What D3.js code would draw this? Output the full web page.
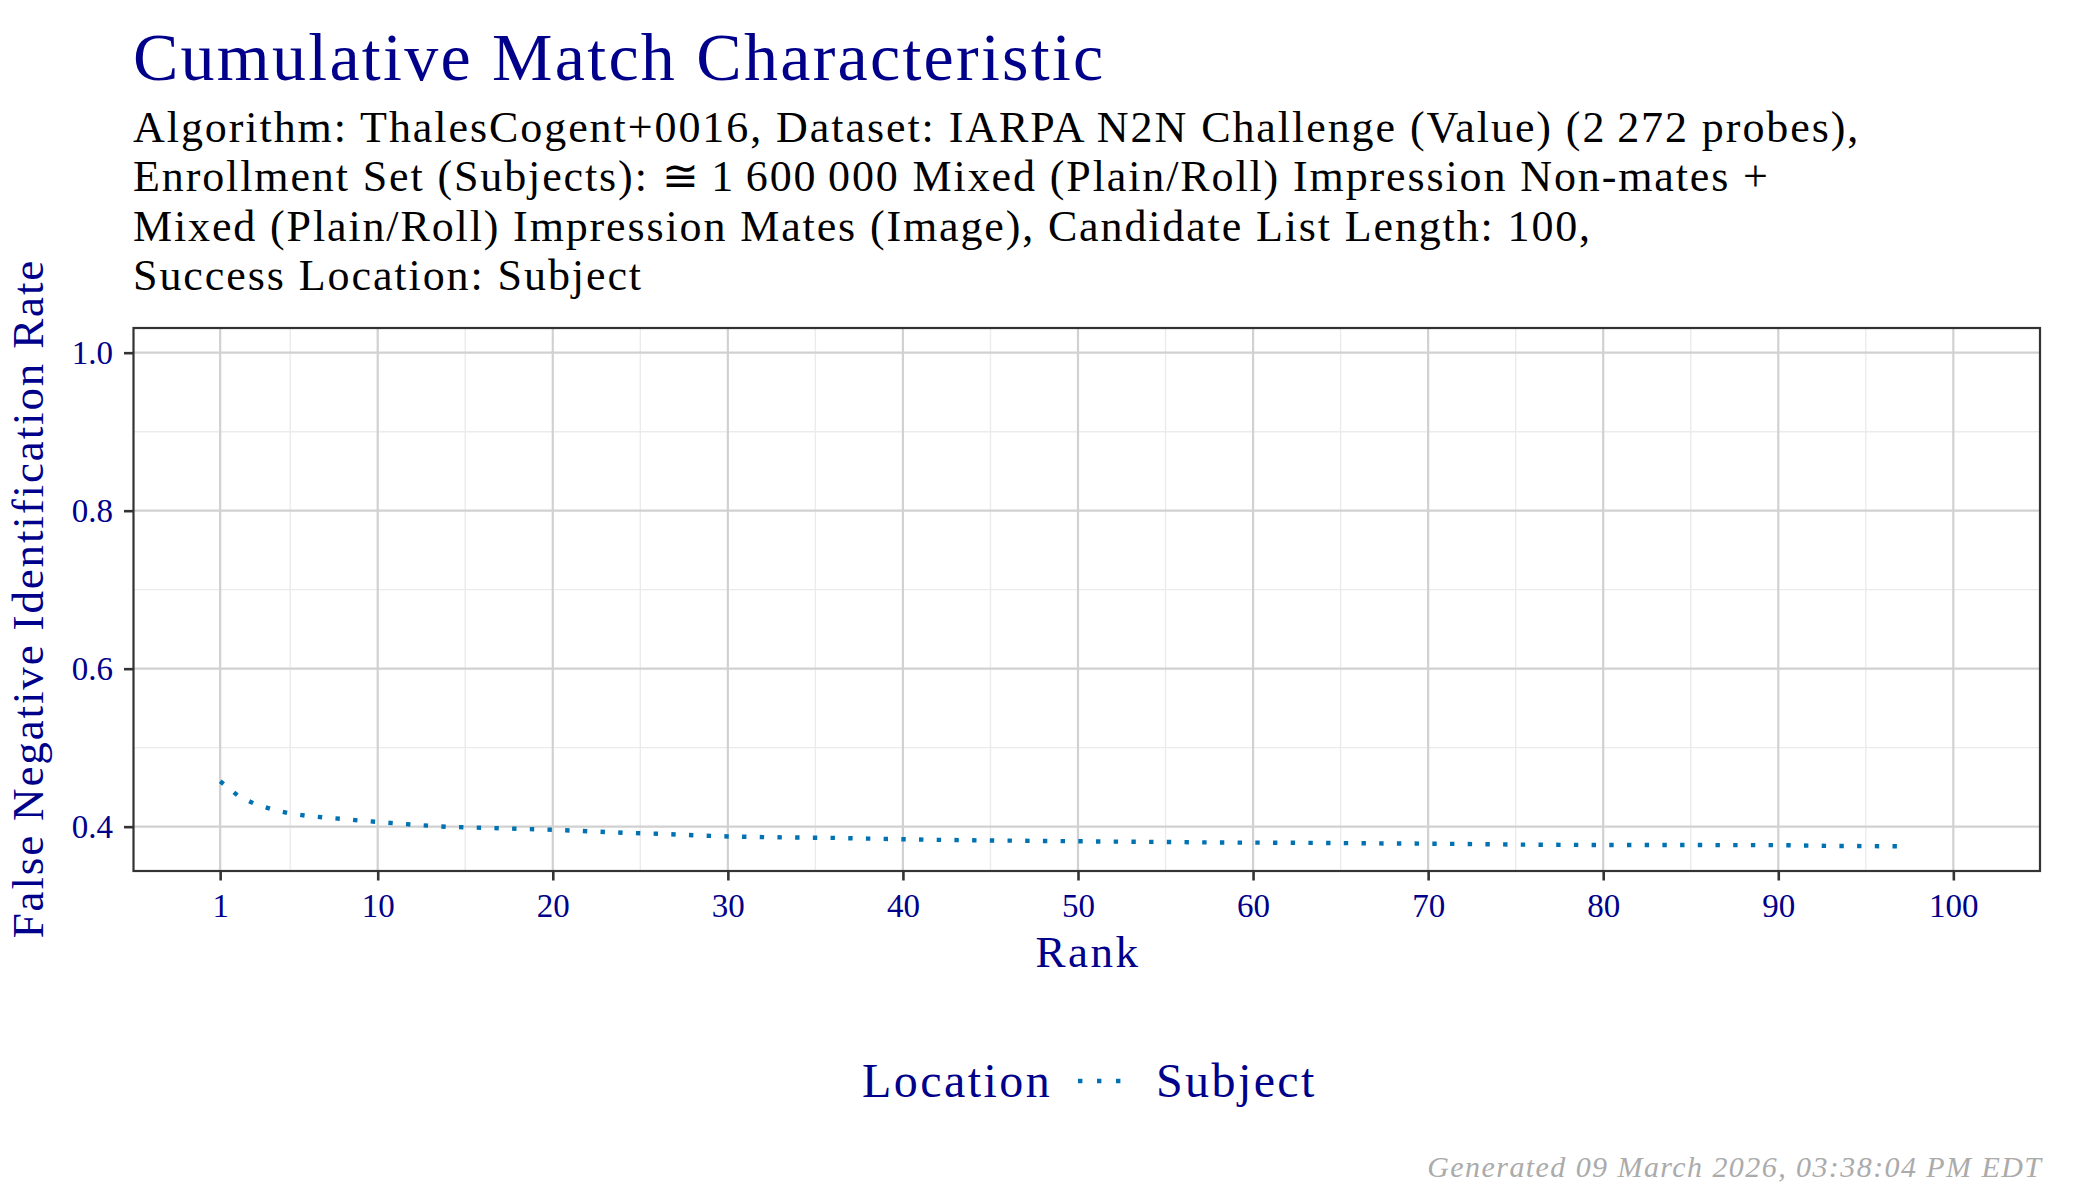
<!DOCTYPE html>
<html>
<head>
<meta charset="utf-8">
<script src="https://cdn.jsdelivr.net/npm/d3@7"></script>
<style>
  body { margin: 0; background: #fff; }
  text { font-family: "Liberation Serif", "DejaVu Serif", serif; }
</style>
</head>
<body>
<svg class="cmc-chart"></svg>
<script>
// values
var ranks = [1, 2, 3, 4, 5, 6, 7, 8, 9, 10, 12, 14, 16, 18, 20, 22, 24, 26, 28, 30,
  32, 34, 36, 38, 40, 42, 44, 46, 48, 50, 52, 55, 58, 61, 64, 67, 70, 73, 76, 80,
  85, 90, 93, 97];
var fnir = [0.4575, 0.4395, 0.4285, 0.4218, 0.4166, 0.4135, 0.4115, 0.4097, 0.4077, 0.4060,
  0.4025, 0.3997, 0.3986, 0.3973, 0.3960, 0.3942, 0.3923, 0.3910, 0.3892, 0.3876,
  0.3868, 0.3862, 0.3858, 0.3849, 0.3841, 0.3833, 0.3827, 0.3823, 0.3819, 0.3815,
  0.3811, 0.3806, 0.3799, 0.3797, 0.3794, 0.3788, 0.3785, 0.3778, 0.3771, 0.3768,
  0.3767, 0.3766, 0.3756, 0.3751];
var xBreaks = [1, 10, 20, 30, 40, 50, 60, 70, 80, 90, 100];
var xMinor = [5, 15, 25, 35, 45, 55, 65, 75, 85, 95];
var yBreaks = [0.4, 0.6, 0.8, 1.0];
var yMinor = [0.5, 0.7, 0.9];

var titleText = "Cumulative Match Characteristic";
var subtitleLines = [
  "Algorithm: ThalesCogent+0016, Dataset: IARPA N2N Challenge (Value) (2\u2009272 probes),",
  "Enrollment Set (Subjects): \u2245\u20091\u2009600\u2009000 Mixed (Plain/Roll) Impression Non-mates +",
  "Mixed (Plain/Roll) Impression Mates (Image), Candidate List Length: 100,",
  "Success Location: Subject"
];
var seriesName = "Subject";
var legendTitle = "Location";
var xTitle = "Rank";
var yTitle = "False Negative Identification Rate";
var generatedText = "Generated 09 March 2026, 03:38:04 PM EDT";

var data = ranks.map(function(r, i){ return {rank: r, fnir: fnir[i]}; });

var width = 2100, height = 1200;
var svg = d3.select(".cmc-chart").attr("width", width).attr("height", height);

var navy = "#00008b";
var lineColor = "#0072b2";
var panel = {left: 133.5, right: 2040, top: 328, bottom: 871};

// the reference font (Palatino) runs wider than Liberation Serif,
// so stretch the spacing a bit to keep the same line widths
function widen(sel, k){
  sel.each(function(){
    var w = this.getComputedTextLength();
    d3.select(this).attr("textLength", w * k).attr("lengthAdjust", "spacing");
  });
}

//Set scales (ggplot style 5% expansion)
var xLo = 1, xHi = 100;
var xPad = (xHi - xLo) * 0.05;
var xScale = d3.scaleLinear()
  .domain([xLo - xPad, xHi + xPad])
  .range([panel.left, panel.right]);

var yLo = d3.min(fnir), yHi = 1;
var yPad = (yHi - yLo) * 0.05;
var yScale = d3.scaleLinear()
  .domain([yLo - yPad, yHi + yPad])
  .range([panel.bottom, panel.top]);

//Groups for z-order
var gGrid = svg.append("g").attr("id", "grid");
var gLine = svg.append("g").attr("id", "line-g");
var gFrame = svg.append("g").attr("id", "frame");

//Grid lines
gGrid.selectAll(".vminor").data(xMinor).enter().append("line")
  .attr("x1", function(d){ return xScale(d); })
  .attr("x2", function(d){ return xScale(d); })
  .attr("y1", panel.top).attr("y2", panel.bottom)
  .attr("stroke", "#ebebeb").attr("stroke-width", 1.4);
gGrid.selectAll(".hminor").data(yMinor).enter().append("line")
  .attr("y1", function(d){ return yScale(d); })
  .attr("y2", function(d){ return yScale(d); })
  .attr("x1", panel.left).attr("x2", panel.right)
  .attr("stroke", "#ebebeb").attr("stroke-width", 1.4);
gGrid.selectAll(".vmajor").data(xBreaks).enter().append("line")
  .attr("x1", function(d){ return xScale(d); })
  .attr("x2", function(d){ return xScale(d); })
  .attr("y1", panel.top).attr("y2", panel.bottom)
  .attr("stroke", "#d1d1d1").attr("stroke-width", 2.2);
gGrid.selectAll(".hmajor").data(yBreaks).enter().append("line")
  .attr("y1", function(d){ return yScale(d); })
  .attr("y2", function(d){ return yScale(d); })
  .attr("x1", panel.left).attr("x2", panel.right)
  .attr("stroke", "#d1d1d1").attr("stroke-width", 2.2);

//The CMC line
var line = d3.line()
  .x(function(d){ return xScale(d.rank); })
  .y(function(d){ return yScale(d.fnir); });

gLine.append("path")
  .datum(data)
  .attr("d", line)
  .attr("fill", "none")
  .attr("stroke", lineColor)
  .attr("stroke-width", 4.4)
  .attr("stroke-dasharray", "4.4,13.3");

//Panel border
gFrame.append("rect")
  .attr("x", panel.left).attr("y", panel.top)
  .attr("width", panel.right - panel.left)
  .attr("height", panel.bottom - panel.top)
  .attr("fill", "none")
  .attr("stroke", "#333333")
  .attr("stroke-width", 2.2);

//Axes
var xAxis = d3.axisBottom(xScale)
  .tickValues(xBreaks)
  .tickSize(9.5)
  .tickPadding(13)
  .tickFormat(d3.format("d"));
var gX = svg.append("g")
  .attr("transform", "translate(0," + panel.bottom + ")")
  .call(xAxis);

var yAxis = d3.axisLeft(yScale)
  .tickValues(yBreaks)
  .tickSize(9.5)
  .tickPadding(11)
  .tickFormat(d3.format(".1f"));
var gY = svg.append("g")
  .attr("transform", "translate(" + panel.left + ",0)")
  .call(yAxis);

[gX, gY].forEach(function(g){
  g.select(".domain").remove();
  g.selectAll(".tick line").attr("stroke", "#333333").attr("stroke-width", 2.6);
  g.selectAll(".tick text")
    .attr("fill", navy)
    .style("font-family", "Liberation Serif")
    .style("font-size", "33px");
});

//Axis titles
svg.append("text")
  .attr("x", (panel.left + panel.right) / 2)
  .attr("y", 967)
  .attr("text-anchor", "middle")
  .attr("fill", navy)
  .style("font-size", "45px")
  .text(xTitle)
  .call(widen, 1.08);

svg.append("text")
  .attr("transform", "translate(43," + (panel.top + panel.bottom) / 2 + ") rotate(-90)")
  .attr("text-anchor", "middle")
  .attr("fill", navy)
  .style("font-size", "45px")
  .text(yTitle)
  .call(widen, 1.1);

//Title and subtitle
svg.append("text")
  .attr("x", 133)
  .attr("y", 80)
  .attr("fill", navy)
  .style("font-size", "68px")
  .text(titleText)
  .call(widen, 1.075);

svg.selectAll(".subtitle")
  .data(subtitleLines)
  .enter()
  .append("text")
  .attr("class", "subtitle")
  .attr("x", 133)
  .attr("y", function(d, i){ return 141.7 + i * 49.4; })
  .attr("fill", "#000")
  .style("font-size", "44px")
  .text(function(d){ return d; })
  .call(widen, 1.1);

//Legend
var gLegend = svg.append("g").attr("id", "legend");
gLegend.append("text")
  .attr("x", 862)
  .attr("y", 1097)
  .attr("fill", navy)
  .style("font-size", "48px")
  .text(legendTitle)
  .call(widen, 1.1);
gLegend.append("line")
  .attr("x1", 1078).attr("x2", 1124)
  .attr("y1", 1081).attr("y2", 1081)
  .attr("stroke", lineColor)
  .attr("stroke-width", 4.4)
  .attr("stroke-dasharray", "4.4,14.6");
gLegend.append("text")
  .attr("x", 1156)
  .attr("y", 1097)
  .attr("fill", navy)
  .style("font-size", "48px")
  .text(seriesName)
  .call(widen, 1.1);

//Generated stamp
svg.append("text")
  .attr("x", 2041)
  .attr("y", 1177)
  .attr("text-anchor", "end")
  .attr("fill", "#ababab")
  .style("font-style", "italic")
  .style("font-size", "30px")
  .text(generatedText)
  .call(widen, 1.1);
</script>
</body>
</html>
